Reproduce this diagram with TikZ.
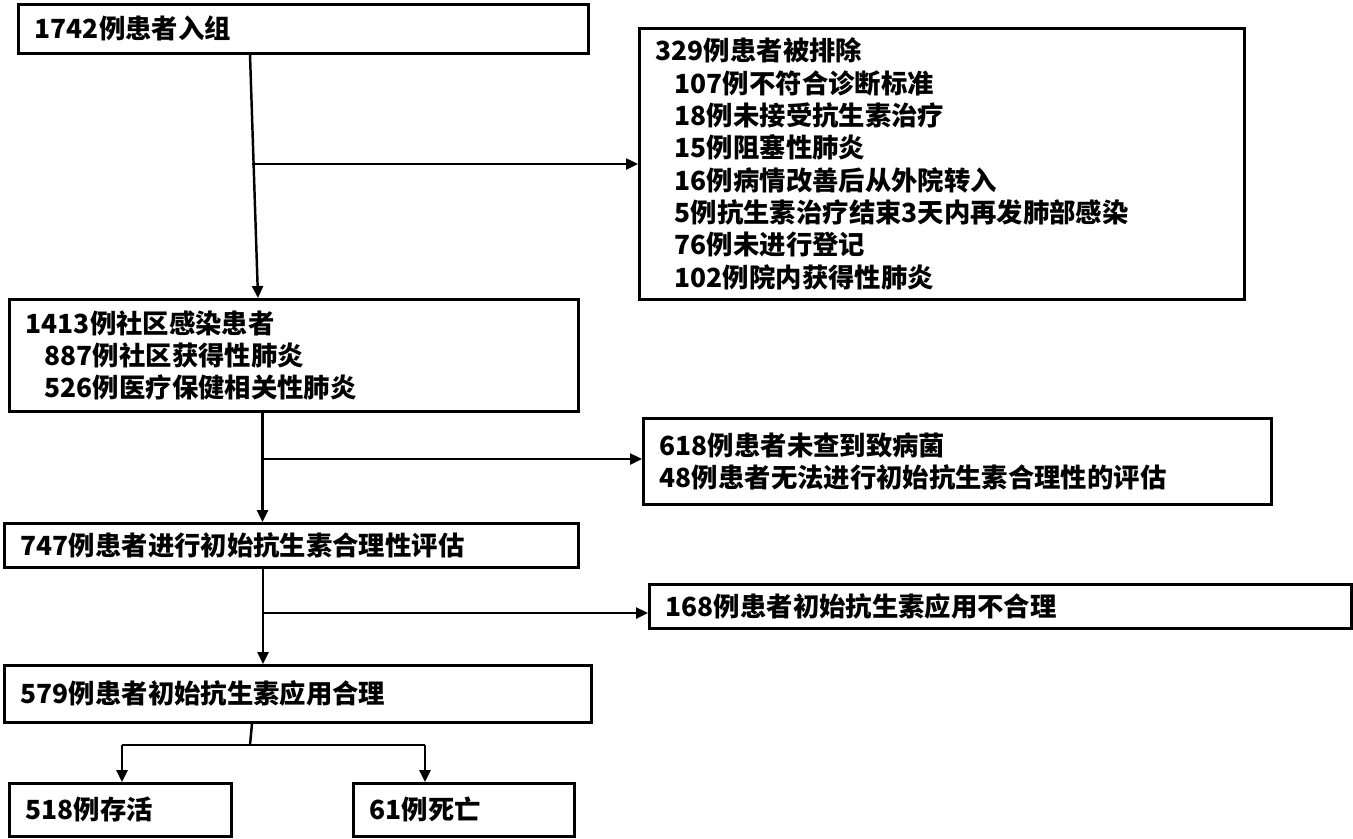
\documentclass[tikz,border=0pt]{standalone}
\usepackage{fontspec}
\setmainfont{Noto Sans CJK SC}
\usepackage{tikz}
\usetikzlibrary{arrows.meta, positioning, calc}
\newcommand{\ind}{\hspace*{0.38cm}}

\begin{document}
\begin{tikzpicture}[
    box/.style={rectangle,draw=black,line width=1.5pt,anchor=north west,inner xsep=0.33cm,
                align=left,font=\bfseries\fontsize{15pt}{18.4pt}\selectfont},
    arr/.style={-{Triangle[length=0.24cm,width=0.22cm]},line width=1.4pt,black}
]
    \useasboundingbox (0,0) rectangle (27.06,-16.76);

    % Main flow
    \node[box,text width=10.74cm,minimum height=0.98cm] (enroll) at (0.34,-0.06) {1742例患者入组};
    \node[box,text width=10.72cm,minimum height=2.24cm] (cap) at (0.16,-5.96) {
        1413例社区感染患者\\
        \ind 887例社区获得性肺炎\\
        \ind 526例医疗保健相关性肺炎
    };
    \node[box,text width=10.82cm,minimum height=0.88cm] (eval) at (0.06,-10.44) {747例患者进行初始抗生素合理性评估};
    \node[box,text width=11.08cm,minimum height=1.14cm] (appr) at (0.06,-13.28) {579例患者初始抗生素应用合理};
    \node[box,text width=3.78cm,minimum height=1.06cm] (alive) at (0.16,-15.64) {518例存活};
    \node[box,text width=3.76cm,minimum height=1.06cm] (dead) at (7.04,-15.64) {61例死亡};

    % Excluded
    \node[box,text width=11.44cm,minimum height=5.42cm] (excl) at (12.76,-0.54) {
        329例患者被排除\\
        \ind 107例不符合诊断标准\\
        \ind 18例未接受抗生素治疗\\
        \ind 15例阻塞性肺炎\\
        \ind 16例病情改善后从外院转入\\
        \ind 5例抗生素治疗结束3天内再发肺部感染\\
        \ind 76例未进行登记\\
        \ind 102例院内获得性肺炎
    };
    \node[box,text width=11.9cm,minimum height=1.72cm] (nopath) at (12.84,-8.34) {
        618例患者未查到致病菌\\
        48例患者无法进行初始抗生素合理性的评估
    };
    \node[box,text width=13.38cm,minimum height=0.88cm] (inappr) at (12.96,-11.66) {168例患者初始抗生素应用不合理};

    % Arrows
    \coordinate (b1) at (5.04,-3.28);
    \coordinate (b2) at (5.25,-9.18);
    \coordinate (b3) at (5.26,-12.26);
    \coordinate (sl) at (2.44,-14.9);
    \coordinate (sr) at (8.5,-14.9);

    \draw[arr] (enroll.south -| 5.0,0) -- (cap.north -| 5.16,0);
    \draw[arr] (b1) -- (b1 -| excl.west);
    \draw[arr] (cap.south -| b2) -- (eval.north -| b2);
    \draw[arr] (b2) -- (b2 -| nopath.west);
    \draw[arr] (eval.south -| b3) -- (appr.north -| b3);
    \draw[arr] (b3) -- (b3 -| inappr.west);
    \draw[line width=1.4pt] (appr.south -| 5.04,0) -- (5.0,-14.9);
    \draw[line width=1.4pt] (sl) -- (sr);
    \draw[arr] (sl) -- (alive.north -| sl);
    \draw[arr] (sr) -- (dead.north -| sr);
\end{tikzpicture}
\end{document}
